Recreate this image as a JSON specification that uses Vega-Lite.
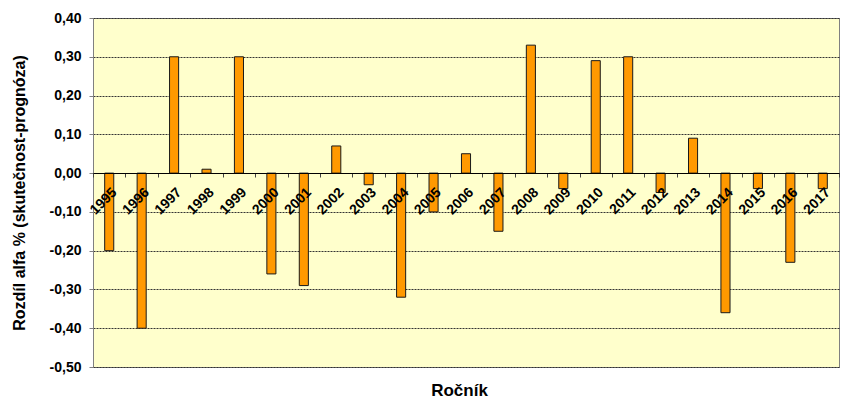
{
  "$schema": "https://vega.github.io/schema/vega-lite/v6.json",
  "width": 746,
  "height": 349,
  "autosize": {"type": "none"},
  "padding": {"left": 93, "top": 18, "right": 9, "bottom": 34},
  "background": "white",
  "config": {
    "locale": {
      "number": {"decimal": ",", "thousands": " ", "grouping": [3], "currency": ["", " Kč"], "minus": "-"}
    },
    "font": "Liberation Sans",
    "view": {"fill": "#FFFFCC", "stroke": "#808080", "strokeWidth": 1}
  },
  "data": {
    "values": [
      {"rocnik": "1995", "rozdil": -0.20},
      {"rocnik": "1996", "rozdil": -0.40},
      {"rocnik": "1997", "rozdil": 0.30},
      {"rocnik": "1998", "rozdil": 0.01},
      {"rocnik": "1999", "rozdil": 0.30},
      {"rocnik": "2000", "rozdil": -0.26},
      {"rocnik": "2001", "rozdil": -0.29},
      {"rocnik": "2002", "rozdil": 0.07},
      {"rocnik": "2003", "rozdil": -0.03},
      {"rocnik": "2004", "rozdil": -0.32},
      {"rocnik": "2005", "rozdil": -0.10},
      {"rocnik": "2006", "rozdil": 0.05},
      {"rocnik": "2007", "rozdil": -0.15},
      {"rocnik": "2008", "rozdil": 0.33},
      {"rocnik": "2009", "rozdil": -0.04},
      {"rocnik": "2010", "rozdil": 0.29},
      {"rocnik": "2011", "rozdil": 0.30},
      {"rocnik": "2012", "rozdil": -0.05},
      {"rocnik": "2013", "rozdil": 0.09},
      {"rocnik": "2014", "rozdil": -0.36},
      {"rocnik": "2015", "rozdil": -0.04},
      {"rocnik": "2016", "rozdil": -0.23},
      {"rocnik": "2017", "rozdil": -0.04}
    ]
  },
  "mark": {"type": "bar", "fill": "#FF9900", "stroke": "#1a1a1a", "strokeWidth": 1, "width": {"band": 0.28}},
  "encoding": {
    "x": {
      "field": "rocnik",
      "type": "ordinal",
      "sort": null,
      "scale": {"paddingInner": 0, "paddingOuter": 0},
      "axis": {
        "title": "Ročník",
        "orient": "bottom",
        "offset": -194,
        "zindex": 1,
        "labelAngle": -45,
        "labelFontWeight": "bold",
        "labelFontSize": 14,
        "labelColor": "#000",
        "labelPadding": 8,
        "tickBand": "extent",
        "tickSize": 4,
        "tickColor": "#444",
        "domainColor": "#000",
        "domainWidth": 1,
        "titleFontSize": 17,
        "titleFontWeight": "bold",
        "titleColor": "#000",
        "titleX": 366,
        "titleY": 217,
        "titleBaseline": "middle",
        "titleAlign": "center"
      }
    },
    "y": {
      "field": "rozdil",
      "type": "quantitative",
      "scale": {"domain": [-0.5, 0.4], "nice": false, "zero": false},
      "axis": {
        "title": "Rozdíl alfa % (skutečnost-prognóza)",
        "values": [-0.5, -0.4, -0.3, -0.2, -0.1, 0, 0.1, 0.2, 0.3, 0.4],
        "format": ".2f",
        "zindex": 0,
        "labelFontWeight": "bold",
        "labelFontSize": 14,
        "labelColor": "#000",
        "labelPadding": 8,
        "tickSize": 4,
        "tickColor": "#808080",
        "domainColor": "#808080",
        "grid": true,
        "gridColor": "#333",
        "gridDash": [2, 1],
        "gridWidth": 1,
        "titleFontSize": 16,
        "titleFontWeight": "bold",
        "titleColor": "#000",
        "titleAngle": -90,
        "titleX": -74,
        "titleY": 174.5,
        "titleBaseline": "middle",
        "titleAlign": "center"
      }
    }
  }
}
